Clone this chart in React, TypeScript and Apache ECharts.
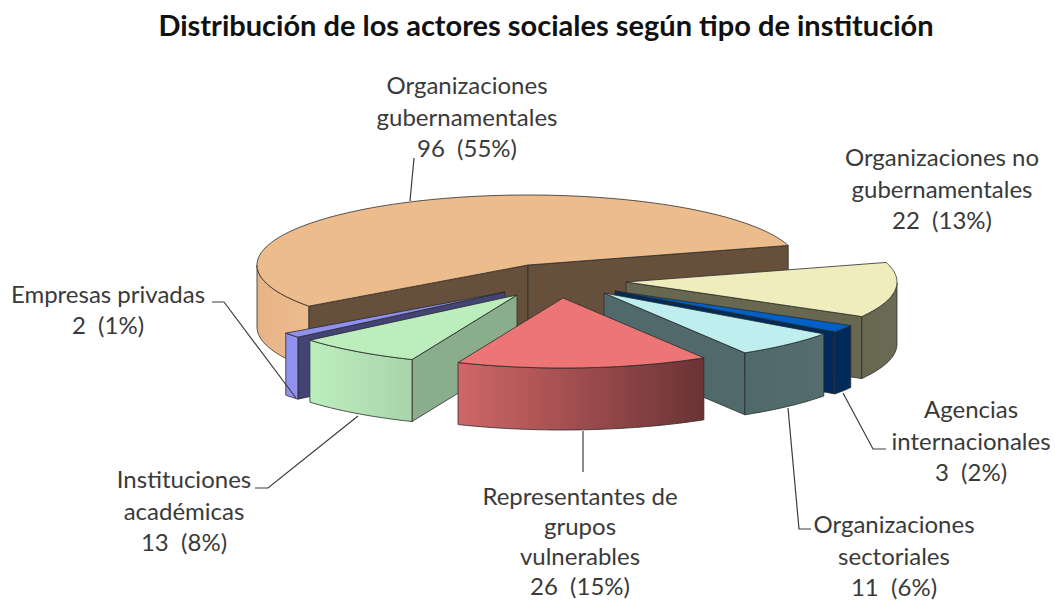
import React, { useEffect, useRef } from "react";
import * as echarts from "echarts";

const titleText = "Distribución de los actores sociales según tipo de institución";
const categories = [
  "Organizaciones\ngubernamentales",
  "Organizaciones no\ngubernamentales",
  "Agencias\ninternacionales",
  "Organizaciones\nsectoriales",
  "Representantes de\ngrupos\nvulnerables",
  "Instituciones\nacadémicas",
  "Empresas privadas",
];
const values = [96, 22, 3, 11, 26, 13, 2];
const percents = [55, 13, 2, 6, 15, 8, 1];

// Style and layout, by slice
const topColors = ["#EDBC8C", "#EEEDBB", "#0060C6", "#BEEEEE", "#EE7576", "#BCEEBD", "#9090EE"];
const edgeColors = ["#66503C", "#68674F", "#002B5A", "#50696A", "#8A4A4A", "#8AAE8C", "#434376"];
const wallFrom = ["#E6B386", "#68674F", "#002B5A", "#50696A", "#D06667", "#BCEEBD", "#9090EE"];
const wallTo = ["#EDBC8C", "#6B6A55", "#002B5A", "#546E6F", "#6A3334", "#A9D4AC", "#9090EE"];
const explodeX = [0, 98, 87, 76, 35, -11, -23];
const explodeY = [0, 17, 26, 28, 33, 30, 27];
const drawOrder = [0, 1, 2, 3, 6, 5, 4];
const labelX = [467, 942, 971, 894, 580, 184, 108];
const labelY = [116, 188, 440, 555, 540, 510, 309];
const labelLineHeight = [31.5, 31.5, 31.5, 31.5, 30, 31.5, 31.5];
const leaders = [
  [[410, 201], [414, 158]],
  [],
  [[843, 393], [873, 449], [886, 449]],
  [[788, 408], [799, 529], [811, 529]],
  [[583, 431], [583, 472]],
  [[358, 416], [268, 488], [255, 488]],
  [[212, 302], [224, 302], [296, 398]],
];

const CX = 528;
const CY = 265;
const RX = 271;
const RY = 70;
const DEPTH = 62;
const FIRST_ANGLE = 216;
const total = values.reduce((s, v) => s + v, 0);
const rad = (d: number) => (d * Math.PI) / 180;
const stroke = { stroke: "#2b2b2b", lineWidth: 0.8, lineJoin: "round" };

function renderSlice(params: any, api: any) {
  const i = params.dataIndex;
  let before = 0;
  for (let k = 0; k < i; k++) before += values[k];
  const a1 = FIRST_ANGLE - (before / total) * 360;
  const a2 = a1 - (api.value(0) / total) * 360;
  const ox = CX + explodeX[i];
  const oy = CY + explodeY[i];
  const rim = (a: number, dz = 0) => [
    ox + RX * Math.cos(rad(a)),
    oy - RY * Math.sin(rad(a)) + dz,
  ];
  const arc: number[] = [];
  for (let a = a1; a > a2; a -= 1) arc.push(a);
  arc.push(a2);
  const children: any[] = [];
  let z = drawOrder[i] * 10;

  const edge = (a: number) => ({
    type: "polygon",
    z2: z++,
    silent: true,
    shape: { points: [[ox, oy], rim(a), rim(a, DEPTH), [ox, oy + DEPTH]] },
    style: { fill: edgeColors[i], ...stroke },
  });
  if (Math.cos(rad(a1)) < 0) children.push(edge(a1));
  if (Math.cos(rad(a2)) > 0) children.push(edge(a2));

  const front = arc.filter((a) => Math.sin(rad(a)) < 0.001);
  if (front.length > 1) {
    const upper = front.map((a) => rim(a));
    const lower = front.map((a) => rim(a, DEPTH)).reverse();
    children.push({
      type: "polygon",
      z2: z++,
      silent: true,
      shape: { points: upper.concat(lower) },
      style: {
        fill: new echarts.graphic.LinearGradient(0, 0, 1, 0, [
          { offset: 0, color: wallFrom[i] },
          { offset: 1, color: wallTo[i] },
        ]),
        ...stroke,
      },
    });
  }
  children.push({
    type: "polygon",
    z2: z++,
    silent: true,
    shape: { points: [[ox, oy], ...arc.map((a) => rim(a))] },
    style: { fill: topColors[i], ...stroke },
  });
  return { type: "group", children };
}

export default function App() {
  const ref = useRef<HTMLDivElement>(null);
  useEffect(() => {
    const chart = echarts.init(ref.current, undefined, { renderer: "svg" });
    const labels = categories.map((c, i) => ({
      type: "text",
      x: labelX[i],
      y: labelY[i],
      z: 20,
      silent: true,
      style: {
        text: `${c}\n${values[i]}  (${percents[i]}%)`,
        font: '24px Lato, "Noto Sans", sans-serif',
        fill: "#3a3a3a",
        lineHeight: labelLineHeight[i],
        textAlign: "center",
        textVerticalAlign: "middle",
      },
    }));
    const lines = leaders
      .filter((l) => l.length > 0)
      .map((points) => ({
        type: "polyline",
        z: 19,
        silent: true,
        shape: { points },
        style: { stroke: "#3c3c3c", lineWidth: 1.2, fill: "none" },
      }));
    chart.setOption({
      animation: false,
      backgroundColor: "#ffffff",
      title: {
        text: titleText,
        left: 541,
        top: 5,
        textAlign: "center",
        textStyle: {
          fontFamily: 'Lato, "Noto Sans", sans-serif',
          fontWeight: "bold",
          fontSize: 29,
          color: "#111111",
        },
      },
      graphic: [...lines, ...labels],
      series: [
        {
          type: "custom",
          coordinateSystem: "none",
          renderItem: renderSlice,
          data: values,
          silent: true,
        },
      ],
    });
    return () => chart.dispose();
  }, []);
  return (
    <div
      ref={ref}
      style={{ position: "absolute", left: 0, top: 0, width: 1055, height: 601 }}
    />
  );
}
